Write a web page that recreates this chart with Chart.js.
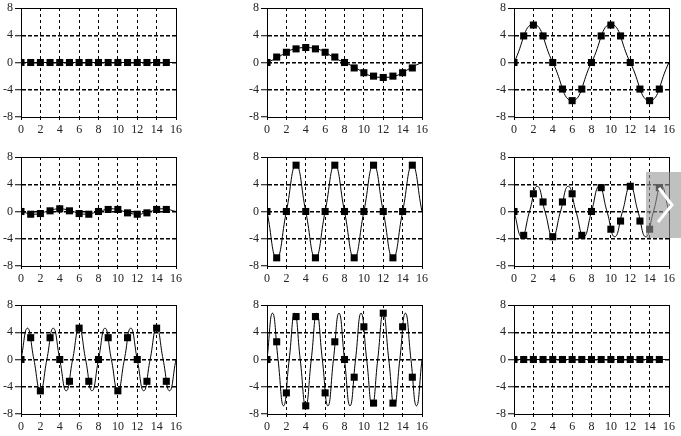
<!DOCTYPE html>
<html>
<head>
<meta charset="utf-8">
<script src="https://cdn.jsdelivr.net/npm/chart.js@4"></script>
<style>
  body { margin: 0; background: #fff; }
  #wrap { position: relative; width: 681px; height: 436px; overflow: hidden; }
  .cell { position: absolute; width: 186px; height: 139px; }
  #nextBtn { position: absolute; left: 646px; top: 172px; width: 35px; height: 66px; background: rgba(150, 150, 150, 0.6); }
</style>
</head>
<body>
<div id="wrap">
  <div id="nextBtn">
    <svg width="35" height="66"><polyline points="13,16 26,33 12,50" fill="none" stroke="#fff" stroke-width="3"/></svg>
  </div>
</div>
<script>
// sample index and tick labels
const sampleN = [0, 1, 2, 3, 4, 5, 6, 7, 8, 9, 10, 11, 12, 13, 14, 15];
const xTicks = [0, 2, 4, 6, 8, 10, 12, 14, 16];
const yTicks = [-8, -4, 0, 4, 8];

// sampled values (squares), one array per panel
const samples1 = [0, 0, 0, 0, 0, 0, 0, 0, 0, 0, 0, 0, 0, 0, 0, 0];
const samples2 = [0, 0.8, 1.5, 2.0, 2.2, 2.0, 1.5, 0.8, 0, -0.8, -1.5, -2.0, -2.2, -2.0, -1.5, -0.8];
const samples3 = [0, 3.9, 5.5, 3.9, 0, -3.9, -5.6, -3.9, 0, 3.9, 5.5, 3.9, 0, -3.9, -5.6, -3.9];
const samples4 = [0, -0.4, -0.3, 0.1, 0.4, 0.1, -0.3, -0.4, 0, 0.3, 0.3, -0.2, -0.4, -0.2, 0.3, 0.3];
const samples5 = [0, -6.8, 0, 6.8, 0, -6.8, 0, 6.8, 0, -6.8, 0, 6.8, 0, -6.8, 0, 6.8];
const samples6 = [0, -3.5, 2.6, 1.4, -3.7, 1.4, 2.6, -3.5, 0, 3.5, -2.6, -1.4, 3.7, -1.4, -2.6, 3.5];
const samples7 = [0, 3.2, -4.6, 3.2, 0, -3.2, 4.6, -3.2, 0, 3.2, -4.6, 3.2, 0, -3.2, 4.6, -3.2];
const samples8 = [0, 2.6, -4.9, 6.3, -6.8, 6.3, -4.9, 2.6, 0, -2.6, 4.8, -6.4, 6.8, -6.4, 4.8, -2.6];
const samples9 = [0, 0, 0, 0, 0, 0, 0, 0, 0, 0, 0, 0, 0, 0, 0, 0];

// continuous curves: zero crossings and peaks, as [x, y]
const curve1 = [[0, 0], [16, 0]];
const curve2 = [[0, 0], [4, 2.2], [8, 0], [12, -2.2], [16, 0]];
const curve3 = [[0, 0], [2, 5.6], [4, 0], [6, -5.6], [8, 0], [10, 5.6], [12, 0], [14, -5.6], [16, 0]];
const curve4 = [[0, 0], [1.33, -0.4], [2.67, 0], [4, 0.4], [5.33, 0], [6.67, -0.4], [8, 0],
  [9.33, 0.4], [10.67, 0], [12, -0.4], [13.33, 0], [14.67, 0.4], [16, 0]];
const curve5 = [[0, 0], [1, -6.8], [2, 0], [3, 6.8], [4, 0], [5, -6.8], [6, 0], [7, 6.8], [8, 0],
  [9, -6.8], [10, 0], [11, 6.8], [12, 0], [13, -6.8], [14, 0], [15, 6.8], [16, 0]];
const curve6 = [[0, 0], [0.8, -3.7], [1.6, 0], [2.4, 3.7], [3.2, 0], [4.0, -3.7], [4.8, 0], [5.6, 3.7],
  [6.4, 0], [7.2, -3.7], [8, 0], [8.8, 3.7], [9.6, 0], [10.4, -3.7], [11.2, 0], [12.0, 3.7],
  [12.8, 0], [13.6, -3.7], [14.4, 0], [15.2, 3.7], [16, 0]];
const curve7 = [[0, 0], [0.67, 4.6], [1.33, 0], [2, -4.6], [2.67, 0], [3.33, 4.6], [4, 0], [4.67, -4.6],
  [5.33, 0], [6, 4.6], [6.67, 0], [7.33, -4.6], [8, 0], [8.67, 4.6], [9.33, 0], [10, -4.6],
  [10.67, 0], [11.33, 4.6], [12, 0], [12.67, -4.6], [13.33, 0], [14, 4.6], [14.67, 0], [15.33, -4.6], [16, 0]];
const curve8 = [[0, 0], [0.57, 6.8], [1.14, 0], [1.71, -6.8], [2.29, 0], [2.86, 6.8], [3.43, 0], [4, -6.8],
  [4.57, 0], [5.14, 6.8], [5.71, 0], [6.29, -6.8], [6.86, 0], [7.43, 6.8], [8, 0], [8.57, -6.8],
  [9.14, 0], [9.71, 6.8], [10.29, 0], [10.86, -6.8], [11.43, 0], [12, 6.8], [12.57, 0], [13.14, -6.8],
  [13.71, 0], [14.29, 6.8], [14.86, 0], [15.43, -6.8], [16, 0]];
const curve9 = [[0, 0], [16, 0]];

const sampleSets = [samples1, samples2, samples3, samples4, samples5, samples6, samples7, samples8, samples9];
const curveSets = [curve1, curve2, curve3, curve4, curve5, curve6, curve7, curve8, curve9];

const colLeft = [0, 246, 493];
const rowTop = [0, 149, 297];

Chart.defaults.font.family = "'Liberation Serif', serif";
Chart.defaults.font.size = 12;
Chart.defaults.color = "#222";

const wrap = document.getElementById("wrap");

function makePanel(i) {
  const cell = document.createElement("div");
  cell.className = "cell";
  cell.style.left = colLeft[i % 3] + "px";
  cell.style.top = rowTop[Math.floor(i / 3)] + "px";
  const canvas = document.createElement("canvas");
  canvas.width = 186;
  canvas.height = 139;
  cell.appendChild(canvas);
  wrap.insertBefore(cell, document.getElementById("nextBtn"));

  const pts = sampleN.map((n, j) => ({ x: n, y: sampleSets[i][j] }));
  const curve = curveSets[i].map(p => ({ x: p[0], y: p[1] }));

  new Chart(canvas, {
    type: "line",
    data: {
      datasets: [
        {
          data: pts,
          showLine: false,
          pointStyle: "rect",
          pointRadius: 5,
          pointBorderWidth: 0,
          pointBackgroundColor: "#000",
        },
        {
          data: curve,
          borderColor: "#000",
          borderWidth: 1,
          tension: 0.5,
          pointRadius: 0,
        },
      ],
    },
    options: {
      responsive: false,
      animation: false,
      events: [],
      layout: { padding: { top: 6, right: 9, left: 0, bottom: 0 } },
      plugins: { legend: { display: false }, tooltip: { enabled: false } },
      scales: {
        x: {
          type: "linear",
          min: 0,
          max: 16,
          afterFit: s => { s.height = 22; },
          afterBuildTicks: s => { s.ticks = xTicks.map(v => ({ value: v })); },
          ticks: { padding: 4, maxRotation: 0, minRotation: 0, font: { lineHeight: 1 } },
          grid: {
            color: c => (c.tick && c.tick.value === 0 ? "rgba(0,0,0,0)" : "#000"),
            lineWidth: 1,
            tickLength: 3,
            tickColor: "#000",
            tickBorderDash: [],
          },
          border: {
            color: "#000",
            width: 1,
            dash: c => (c.tick && c.tick.value === 16 ? [] : [3, 3]),
          },
        },
        y: {
          min: -8,
          max: 8,
          afterFit: s => { s.width = 21; },
          afterBuildTicks: s => { s.ticks = yTicks.map(v => ({ value: v })); },
          ticks: { padding: 2, font: { lineHeight: 1 } },
          grid: {
            color: c => (c.tick && c.tick.value === -8 ? "rgba(0,0,0,0)" : "#000"),
            lineWidth: c => (c.tick && c.tick.value === 8 ? 1 : 1.5),
            tickLength: 6,
            tickColor: "#000",
            tickWidth: 1,
            tickBorderDash: [],
          },
          border: {
            color: "#000",
            width: 1,
            dash: c => (c.tick && c.tick.value === 8 ? [] : [4, 2]),
          },
        },
      },
    },
  });
}

for (let i = 0; i < 9; i++) makePanel(i);
</script>
</body>
</html>
